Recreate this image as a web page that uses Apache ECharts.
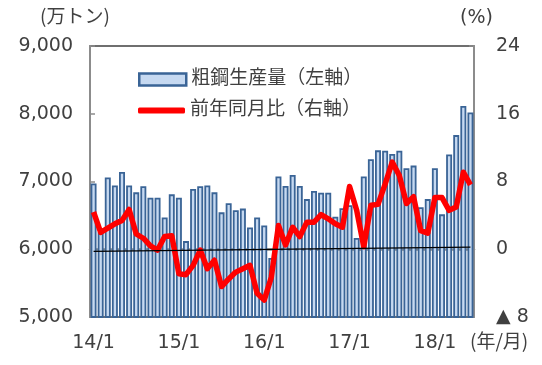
<!DOCTYPE html>
<html>
<head>
<meta charset="utf-8">
<script src="https://cdn.jsdelivr.net/npm/echarts@6/dist/echarts.min.js"></script>
<style>html,body{margin:0;padding:0;background:#fff}#c{width:542px;height:365px}</style>
</head>
<body>
<div id="c"></div>
<script>
// Months 14/1 .. 18/6
const categories = [
 '14/1','14/2','14/3','14/4','14/5','14/6','14/7','14/8','14/9','14/10','14/11','14/12',
 '15/1','15/2','15/3','15/4','15/5','15/6','15/7','15/8','15/9','15/10','15/11','15/12',
 '16/1','16/2','16/3','16/4','16/5','16/6','16/7','16/8','16/9','16/10','16/11','16/12',
 '17/1','17/2','17/3','17/4','17/5','17/6','17/7','17/8','17/9','17/10','17/11','17/12',
 '18/1','18/2','18/3','18/4','18/5','18/6'
];
// 粗鋼生産量 (万トン)
const steelOutput = [
 6970,6250,7060,6940,7140,6940,6840,6930,6760,6760,6470,6810,
 6760,6120,6890,6930,6940,6840,6545,6680,6575,6600,6320,6470,
 6350,5870,7075,6935,7095,6935,6740,6860,6835,6835,6480,6605,
 6650,6165,7075,7330,7460,7455,7405,7455,7195,7235,6620,6740,
 7195,6515,7400,7685,8115,8020
];
// 前年同月比 (%)
const yoyChange = [
 4.4,2.0,2.5,3.0,3.4,4.7,1.8,1.3,0.4,-0.1,1.5,1.6,
 -2.9,-3.0,-1.9,-0.1,-2.3,-1.3,-4.4,-3.5,-2.7,-2.3,-1.9,-5.2,
 -6.0,-3.3,2.8,0.5,2.6,1.5,3.2,3.2,4.1,3.6,3.0,2.6,
 7.4,4.6,0.3,5.2,5.3,7.7,10.3,8.7,5.4,6.2,2.2,1.9,
 6.1,6.1,4.6,5.0,9.1,7.6
];
// thin reference line (left-axis units) at start and end
const refLine = [5970, 6030];
const leftTicks = {min:5000, max:9000, interval:1000};
const rightTicks = {min:-8, max:24, interval:8};

const FONT = "'DejaVu Sans','Noto Sans CJK JP',sans-serif";
const TXT = '#404040';
const BAR_NAME = '粗鋼生産量（左軸）';
const LINE_NAME = '前年同月比（右軸）';
const chart = echarts.init(document.getElementById('c'), null, {renderer:'canvas'});
chart.setOption({
  animation:false,
  grid:{left:90, right:68, top:46, bottom:48, show:true, borderColor:'#404040', borderWidth:1.5, backgroundColor:'transparent'},
  legend:[
    {orient:'vertical', left:133, top:65, itemWidth:47, itemHeight:12, itemGap:6,
     textStyle:{fontFamily:FONT, fontSize:19, color:TXT},
     data:[{name:BAR_NAME, icon:'rect', itemStyle:{color:'#c6d9f1', borderColor:'#3a6496', borderWidth:2.5}}]},
    {orient:'vertical', left:133, top:96, itemWidth:47, itemHeight:6, itemGap:6,
     textStyle:{fontFamily:FONT, fontSize:19, color:TXT},
     data:[{name:LINE_NAME, icon:'roundRect', itemStyle:{color:'#ff0000', borderWidth:0}}]}
  ],
  xAxis:{
    type:'category', data:categories, boundaryGap:true,
    axisLine:{lineStyle:{color:'#8c8c8c', width:2.5}},
    axisTick:{inside:true, length:4, interval:0, lineStyle:{color:'#8c8c8c', width:1.5}},
    axisLabel:{interval:function(i){return i%12===0;}, fontFamily:FONT, fontSize:19, color:TXT, margin:17},
    splitLine:{show:false}
  },
  yAxis:[
    {type:'value', min:leftTicks.min, max:leftTicks.max, interval:leftTicks.interval,
     axisLine:{show:true, lineStyle:{color:'#8c8c8c', width:2}},
     axisTick:{show:true, inside:true, length:5, lineStyle:{color:'#8c8c8c', width:1.5}},
     axisLabel:{fontFamily:FONT, fontSize:19, color:TXT, margin:17,
       formatter:function(v){return v.toLocaleString('en-US');}},
     splitLine:{show:false}},
    {type:'value', min:rightTicks.min, max:rightTicks.max, interval:rightTicks.interval, position:'right',
     axisLine:{show:true, lineStyle:{color:'#8c8c8c', width:2}},
     axisTick:{show:true, inside:true, length:5, lineStyle:{color:'#8c8c8c', width:1.5}},
     axisLabel:{fontFamily:FONT, fontSize:19, color:TXT, margin:22,
       formatter:function(v){return v<0 ? '▲ ' + Math.abs(v) : String(v);}},
     splitLine:{show:false}}
  ],
  series:[
    {name:BAR_NAME, type:'bar', yAxisIndex:0, data:steelOutput, barWidth:'84%', z:2,
     itemStyle:{color:'#c6d9f1', borderColor:'#3a6496', borderWidth:1.8},
     markLine:{silent:true, symbol:'none', label:{show:false}, lineStyle:{color:'#000', width:1.3, type:'solid'},
       data:[[{coord:[categories[0], refLine[0]]},{coord:[categories[categories.length-1], refLine[1]]}]]}},
    {name:LINE_NAME, type:'line', yAxisIndex:1, data:yoyChange, z:4,
     symbol:'none', showSymbol:false, lineStyle:{color:'#ff0000', width:5.5, join:'round'}, itemStyle:{color:'#ff0000'}}
  ],
  graphic:[
    {type:'text', left:40, top:6, style:{text:'(万トン)', font:"19px 'Noto Sans CJK JP'", fill:TXT}},
    {type:'text', left:460, top:9, style:{text:'(%)', font:"19px "+FONT, fill:TXT}},
    {type:'text', left:470, top:331, style:{text:'(年/月)', font:"19px 'Noto Sans CJK JP'", fill:TXT}}
  ]
});
</script>
</body>
</html>
